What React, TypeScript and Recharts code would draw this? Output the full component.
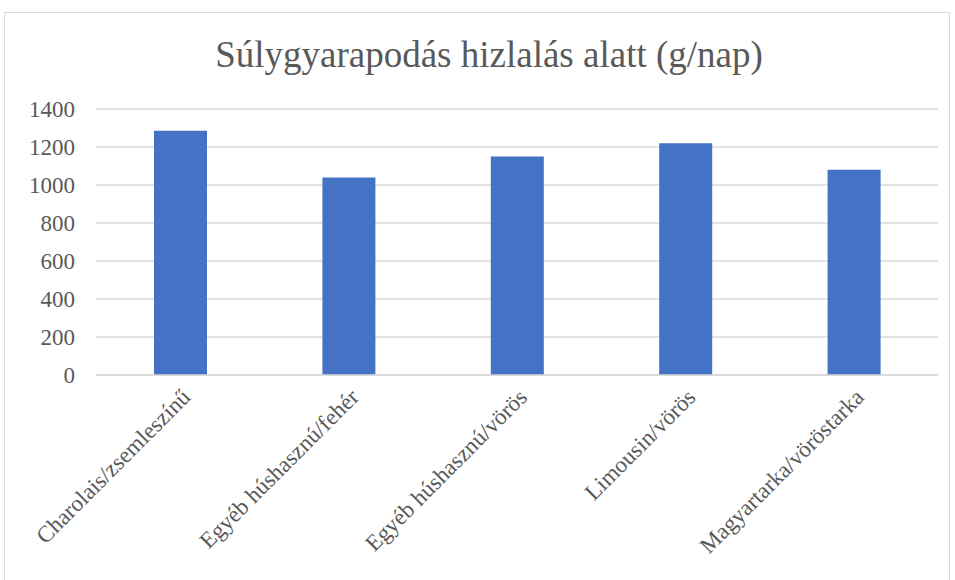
import { BarChart, Bar, XAxis, YAxis, CartesianGrid } from 'recharts';

const breeds = [
  'Charolais/zsemleszínű',
  'Egyéb húshasznú/fehér',
  'Egyéb húshasznú/vörös',
  'Limousin/vörös',
  'Magyartarka/vöröstarka',
];
const gains = [1285, 1040, 1150, 1220, 1080];
const yTicks = [0, 200, 400, 600, 800, 1000, 1200, 1400];

const data = breeds.map((name, i) => ({ name, value: gains[i] }));

const font = '"Liberation Serif", "Times New Roman", serif';
const textColor = '#595959';

const App = () => {
  return (
    <div style={{ position: 'absolute', left: 0, top: 0, width: 955, height: 580, overflow: 'hidden', background: '#fff' }}>
      <div
        style={{
          position: 'absolute',
          left: 4,
          top: 12,
          width: 946,
          height: 600,
          border: '1px solid #d9d9d9',
          boxSizing: 'border-box',
        }}
      />
      <div
        style={{
          position: 'absolute',
          left: 0,
          top: 36,
          width: 978,
          textAlign: 'center',
          fontFamily: font,
          fontSize: 37,
          lineHeight: 1,
          color: textColor,
        }}
      >
        Súlygyarapodás hizlalás alatt (g/nap)
      </div>
      <div style={{ position: 'absolute', left: 0, top: 0 }}>
        <BarChart width={955} height={580} data={data} margin={{ top: 109, right: 17, bottom: 0, left: 0 }}>
          <CartesianGrid vertical={false} stroke="#d9d9d9" strokeWidth={1.3} />
          <XAxis
            dataKey="name"
            height={205}
            interval={0}
            axisLine={{ stroke: '#d9d9d9', strokeWidth: 1.3 }}
            tickLine={false}
            angle={-45}
            textAnchor="end"
            tickMargin={6}
            tick={{ fill: textColor, fontFamily: font, fontSize: 23 }}
          />
          <YAxis
            width={96}
            domain={[0, 1400]}
            ticks={yTicks}
            axisLine={false}
            tickLine={false}
            tickSize={0}
            tickMargin={21}
            tick={{ fill: textColor, fontFamily: font, fontSize: 23 }}
          />
          <Bar dataKey="value" fill="#4472C4" barSize={53} isAnimationActive={false} />
        </BarChart>
      </div>
    </div>
  );
};

export default App;
